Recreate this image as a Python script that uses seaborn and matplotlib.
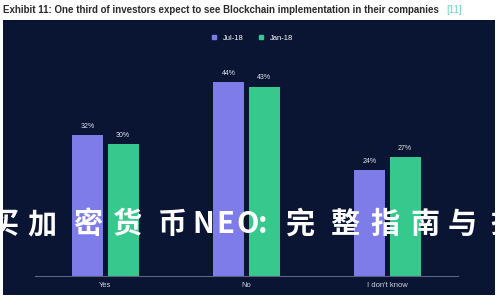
import matplotlib
matplotlib.use("Agg")
import matplotlib.pyplot as plt
import seaborn as sns
import pandas as pd
from matplotlib.patches import Rectangle
from matplotlib.lines import Line2D

categories = ["Yes", "No", "I don't know"]
series = ["Jul-18", "Jan-18"]
jul18 = [32, 44, 24]
jan18 = [30, 43, 27]
title = "Exhibit 11: One third of investors expect to see Blockchain implementation in their companies"
title_ref = "[11]"
watermark_chars = ["买", "加", "密", "货", "币", "N", "E", "O", ":", "完", "整", "指", "南", "与", "技"]

df = pd.DataFrame({
    "category": categories * 2,
    "series": [series[0]] * 3 + [series[1]] * 3,
    "value": jul18 + jan18,
})

BG = "#0a1433"
PURPLE = "#7d7ce9"
GREEN = "#36c88c"

sns.set_theme(style="white")
plt.rcParams['font.family'] = ['Liberation Sans', 'DejaVu Sans']

fig = plt.figure(figsize=(5, 3), dpi=100)
fig.patch.set_facecolor("white")
fig.patches.append(Rectangle((0.006, 0.017), 0.984, 0.916, transform=fig.transFigure,
                             facecolor=BG, edgecolor="none", zorder=-5))

ax = fig.add_axes([0.07, 0.08, 0.846, 0.733])
ax.set_zorder(1)
ax.set_facecolor("none")
sns.barplot(data=df, x="category", y="value", hue="series", order=categories,
            hue_order=series, palette=[PURPLE, GREEN], width=0.5, gap=0.12,
            ax=ax, legend=False, saturation=1, edgecolor="none", linewidth=0)
ax.set_ylim(0, 50)
ax.set_xlim(-0.5, 2.5)
ax.set_xlabel("")
ax.set_ylabel("")
ax.set_yticks([])
for s in ["top", "right", "left"]:
    ax.spines[s].set_visible(False)
ax.spines["bottom"].set_color("#5a6380")
ax.spines["bottom"].set_linewidth(0.8)
ax.tick_params(axis="x", colors="#d0d4e0", labelsize=5.5, length=0, pad=4)

for cont in ax.containers:
    ax.bar_label(cont, labels=[f"{int(v)}%" for v in cont.datavalues],
                 color="#dfe3ee", fontsize=5, padding=4)

handles = [Line2D([], [], marker="s", linestyle="none", markersize=3.5, color=c) for c in [PURPLE, GREEN]]
fig.legend(handles, series, loc="center", bbox_to_anchor=(0.5, 0.873), ncol=2, frameon=False,
           fontsize=5.5, labelcolor="#ffffff", handletextpad=0.2, columnspacing=1.2)

fig.text(0.006, 0.967, title, fontsize=7.05, fontweight="bold", color="#2a2a2a", va="center", ha="left")
fig.text(0.893, 0.967, title_ref, fontsize=7.05, color="#6fd0c0", va="center", ha="left")

# watermark overlay, characters spaced as in the reference
wm_x = [5, 42, 88, 127, 172, 203, 225, 248, 263, 300, 345, 385, 425, 462, 505]
for ch, px in zip(watermark_chars, wm_x):
    fig.text(px / 500, 1 - 224 / 300, ch, fontsize=21, fontweight="bold", color="white",
             family=['Noto Sans CJK SC', 'DejaVu Sans'], va="center", ha="center", zorder=5)

fig.savefig("out.png", dpi=100)
